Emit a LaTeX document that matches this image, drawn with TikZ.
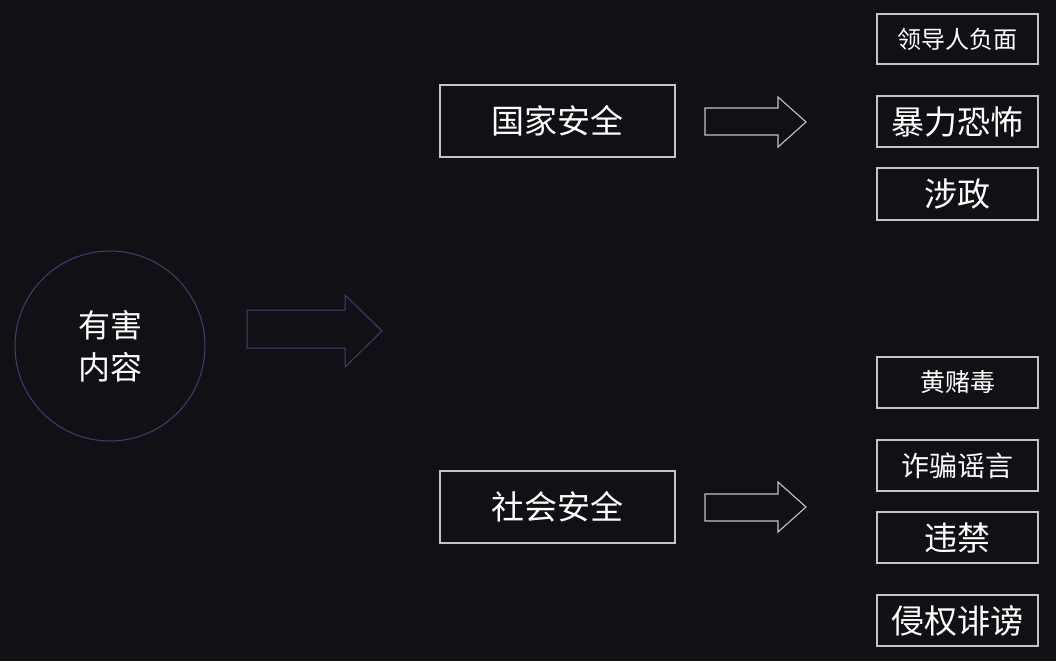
\documentclass[tikz,border=0pt]{standalone}
\usepackage{fontspec}
\newfontfamily\cjk{Noto Sans CJK SC}
\begin{document}
\begin{tikzpicture}[x=1pt,y=-1pt,
  box/.style={draw=boxgrey,line width=1.2pt,text=white,inner sep=0pt,font=\cjk},
  bigarrow/.style={draw=circblue,line width=1pt},
  smallarrow/.style={draw=boxgrey,line width=1.1pt}]
\definecolor{bg}{HTML}{111115}
\definecolor{boxgrey}{HTML}{C4C4C8}
\definecolor{circblue}{HTML}{3A4170}
\fill[bg] (0,0) rectangle (1056,661);
\useasboundingbox (0,0) rectangle (1056,661);
% circle
\node[draw=circblue,line width=1pt,circle,minimum size=190pt,inner sep=0pt] (root) at (110,346) {};
\node[text=white,font=\cjk\fontsize{32}{42}\selectfont,align=center] (roottext) at (110,346) {有害\\内容};
% big arrow
\draw[bigarrow] (247,310) -- (345,310) -- (345,295) -- (382,331) -- (345,367) -- (345,348) -- (247,348) -- cycle;
% mid boxes
\node[box,minimum width=235pt,minimum height=72pt,font=\cjk\fontsize{33}{33}\selectfont] (gj) at (557.5,121) {国家安全};
\node[box,minimum width=235pt,minimum height=72pt,font=\cjk\fontsize{33}{33}\selectfont] (sh) at (557.5,507) {社会安全};
% small arrows
\draw[smallarrow] (705,108) -- (778,108) -- (778,97) -- (806,122) -- (778,147) -- (778,135) -- (705,135) -- cycle;
\draw[smallarrow] (705,494) -- (778,494) -- (778,482) -- (806,507) -- (778,532) -- (778,521) -- (705,521) -- cycle;
% right boxes
\node[box,minimum width=161pt,minimum height=50pt,font=\cjk\fontsize{24}{24}\selectfont] (r1) at (957.5,39) {领导人负面};
\node[box,minimum width=161pt,minimum height=51pt,font=\cjk\fontsize{33}{33}\selectfont] (r2) at (957.5,121.5) {暴力恐怖};
\node[box,minimum width=161pt,minimum height=52pt,font=\cjk\fontsize{33}{33}\selectfont] (r3) at (957.5,194) {涉政};
\node[box,minimum width=161pt,minimum height=51pt,font=\cjk\fontsize{25}{25}\selectfont] (r4) at (957.5,382.5) {黄赌毒};
\node[box,minimum width=161pt,minimum height=51pt,font=\cjk\fontsize{28}{28}\selectfont] (r5) at (957.5,465.5) {诈骗谣言};
\node[box,minimum width=161pt,minimum height=51pt,font=\cjk\fontsize{33}{33}\selectfont] (r6) at (957.5,537.5) {违禁};
\node[box,minimum width=161pt,minimum height=51pt,font=\cjk\fontsize{33}{33}\selectfont] (r7) at (957.5,620.5) {侵权诽谤};
\end{tikzpicture}
\end{document}
